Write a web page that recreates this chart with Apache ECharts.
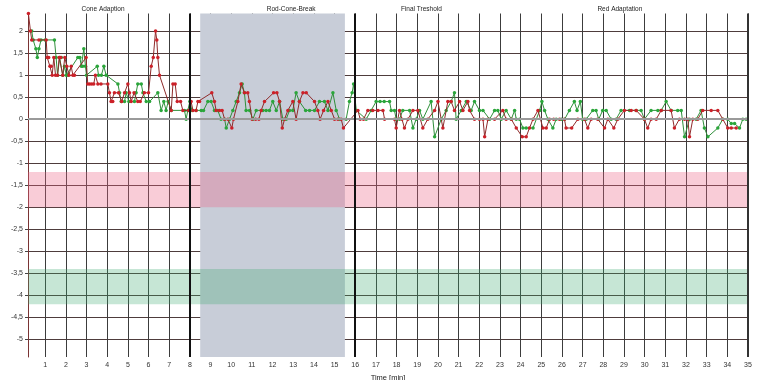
<!DOCTYPE html>
<html>
<head>
<meta charset="utf-8">
<script src="https://cdn.jsdelivr.net/npm/echarts@6/dist/echarts.min.js"></script>
<style>html,body{margin:0;padding:0;background:#fff}#c{width:758px;height:380px}</style>
</head>
<body>
<div id="c"></div>
<script>
// ---- data ----
const xTicks = [1,2,3,4,5,6,7,8,9,10,11,12,13,14,15,16,17,18,19,20,21,22,23,24,25,26,27,28,29,30,31,32,33,34,35];
const yTicks = [2,1.5,1,0.5,0,-0.5,-1,-1.5,-2,-2.5,-3,-3.5,-4,-4.5,-5];
const sectionNames = ['Cone Adaption','Rod-Cone-Break','Final Treshold','Red Adaptation'];
const sectionLabelAt = [3.8,12.9,19.2,28.8];
const sectionBounds = [8,16];
const rodConeBand = [8.5,15.5];
const redBand = [-1.2,-2.0];
const greenBand = [-3.4,-4.2];

const redData = [
[0.19,2.4],[0.29,2.0],[0.35,1.8],[0.7,1.8],[1.05,1.8],[1.1,1.4],[1.17,1.4],[1.23,1.2],[1.29,1.2],[1.34,1.0],[1.42,1.4],[1.5,1.0],[1.6,1.0],[1.68,1.4],[1.75,1.4],[1.85,1.0],[1.95,1.4],[2.05,1.2],[2.15,1.0],[2.26,1.2],[2.34,1.0],[2.42,1.0],[2.98,1.4],[3.06,0.8],[3.15,0.8],[3.25,0.8],[3.35,0.8],[3.43,1.0],[3.55,0.8],[3.7,0.8],[4.03,0.8],[4.11,0.6],[4.19,0.4],[4.27,0.4],[4.35,0.6],[4.55,0.6],[4.7,0.4],[4.84,0.6],[5.0,0.8],[5.08,0.6],[5.16,0.4],[5.3,0.6],[5.48,0.4],[5.6,0.4],[5.8,0.6],[6.0,0.6],[6.13,1.2],[6.23,1.4],[6.34,2.0],[6.4,1.8],[6.45,1.4],[6.53,1.0],[7.1,0.2],[7.18,0.8],[7.29,0.8],[7.39,0.4],[7.55,0.4],[7.66,0.2],[7.95,0.2],[8.06,0.4],[8.15,0.2],[8.3,0.2],[8.39,0.4],
[8.47,0.4],[9.06,0.6],[9.19,0.4],[9.27,0.2],[9.43,0.2],[9.56,0.2],[9.68,0],[9.84,0],[10.03,-0.2],[10.11,0],[10.32,0.4],[10.48,0.8],[10.64,0.6],[10.8,0.6],[10.88,0.4],[11.01,0],[11.18,0],[11.34,0],[11.45,0.2],[11.61,0.4],[12.05,0.6],[12.21,0.6],[12.34,0.4],[12.47,-0.2],[12.58,0],[12.74,0.2],[12.98,0.4],[13.14,0],[13.3,0.4],[13.47,0.6],[13.63,0.6],[14.03,0.4],[14.19,0.2],[14.3,0],[14.47,0.2],[14.68,0.4],[14.84,0.2],[15.0,0],[15.16,0],[15.32,0],[15.43,-0.2],[16.13,0.2],[16.24,0],[16.4,0],[16.61,0.2],[16.85,0.2],[17.1,0.2],
[17.34,0.2],[17.42,0],[17.9,0],[17.98,-0.2],[18.14,0.2],[18.26,0],[18.38,-0.2],[18.55,0],[18.79,0.2],[19.03,0.2],[19.27,-0.2],[19.51,0],[19.84,0.2],[20.0,0.4],[20.24,-0.2],[20.48,0.4],[20.64,0.4],[20.8,0.2],[21.05,0.4],[21.21,0.2],[21.45,0.4],[21.53,0.2],[21.77,0],[22.01,0],[22.18,0],[22.26,-0.4],[22.42,0],[22.74,0],[23.14,0.2],[23.3,0],[23.55,0],[23.79,-0.2],[24.08,-0.4],[24.27,-0.4],[24.43,-0.2],[24.6,0],[24.84,0.2],[25.08,-0.2],[25.24,-0.2],[25.4,0],[25.6,0],[25.88,0],[26.12,0],
[26.2,-0.2],[26.47,-0.2],[26.77,0],[27.09,0],[27.25,-0.2],[27.41,0],[27.73,0],[28.06,-0.2],[28.22,0],[28.51,-0.2],[28.7,0],[29.02,0.2],[29.35,0.2],[29.59,0.2],[29.99,0],[30.15,-0.2],[30.31,0],[30.56,0],[30.8,0.2],[31.28,0.2],[31.44,-0.2],[31.68,0],[31.93,0],[32.09,0],[32.17,-0.4],[32.33,0],[32.57,0],[32.81,0.2],[33.22,0.2],[33.54,0.2],[33.78,0],[34.02,-0.2],[34.19,-0.2],[34.43,-0.2]
];

const greenData = [
[0.35,2.0],[0.42,1.8],[0.55,1.6],[0.62,1.4],[0.7,1.6],[0.8,1.8],[1.0,1.8],[1.45,1.8],[1.53,1.4],[1.6,1.0],[1.7,1.4],[1.78,1.4],[1.85,1.0],[1.94,1.2],[2.02,1.0],[2.1,1.0],[2.58,1.4],[2.68,1.4],[2.75,1.2],[2.82,1.2],[2.87,1.6],[2.95,1.2],[3.0,1.0],[3.52,1.2],[3.58,1.0],[3.72,1.0],[3.84,1.2],[3.95,1.0],[4.52,0.8],[4.6,0.6],[4.68,0.4],[4.84,0.4],[4.92,0.6],[5.05,0.4],[5.32,0.4],[5.4,0.6],[5.48,0.8],[5.65,0.8],[5.73,0.6],[5.89,0.4],[6.05,0.4],[6.45,0.6],[6.61,0.2],[6.74,0.4],[6.85,0.2],[6.95,0.4],[7.1,0.2],[7.74,0.2],[7.82,0],[7.9,0.2],[8.0,0.4],[8.1,0.2],[8.3,0.2],
[8.55,0.2],[8.66,0.2],[8.87,0.4],[9.03,0.4],[9.19,0.2],[9.35,0.2],[9.51,0],[9.68,0],[9.76,-0.2],[9.92,0],[10.08,0.2],[10.24,0.4],[10.4,0.6],[10.53,0.8],[10.64,0.6],[10.72,0.2],[10.89,0.2],[11.05,0],[11.21,0.2],[11.53,0.2],[11.69,0.2],[11.85,0.2],[12.01,0.4],[12.18,0.2],[12.34,0.4],[12.5,0],[12.66,0],[12.82,0.2],[12.98,0.2],[13.14,0.6],[13.3,0.4],[13.6,0.2],[13.79,0.2],[14.03,0.2],[14.27,0.4],[14.51,0.4],[14.68,0.2],[14.92,0.6],[15.08,0.2],[15.24,0],[15.56,0],[15.72,0.4],[15.85,0.6],[15.92,0.8],[16.05,0.2],[16.53,0],[16.77,0.2],[17.01,0.4],
[17.2,0.4],[17.4,0.4],[17.66,0.4],[17.74,0.2],[17.9,0.2],[17.98,0],[18.14,0],[18.3,0.2],[18.63,0.2],[18.79,-0.2],[18.95,0],[19.11,0.2],[19.27,0],[19.67,0.4],[19.84,-0.4],[20.16,0],[20.4,0.2],[20.64,0.4],[20.8,0.6],[20.88,0],[21.13,0.2],[21.37,0.4],[21.61,0.2],[21.77,0.4],[22.01,0.2],[22.18,0.2],[22.5,0],[22.74,0.2],[22.9,0.2],[23.06,0],[23.3,0.2],[23.55,0],[23.71,0.2],[23.79,0],[23.95,0],[24.11,-0.2],[24.27,-0.2],[24.6,-0.2],[24.92,0.2],[25.03,0.4],[25.16,0.2],[25.32,0],[25.56,-0.2],[25.72,0],[25.97,0],[26.13,0],
[26.36,0.2],[26.6,0.4],[26.73,0.2],[26.89,0.4],[27.0,0],[27.17,0],[27.49,0.2],[27.65,0.2],[27.78,0],[27.97,0.2],[28.14,0.2],[28.38,0],[28.62,0],[28.86,0.2],[29.27,0.2],[29.59,0.2],[29.83,0.2],[29.99,0],[30.31,0.2],[30.64,0.2],[30.8,0.2],[31.04,0.4],[31.28,0.2],[31.6,0.2],[31.77,0.2],[31.93,-0.4],[32.17,0],[32.49,0],[32.73,0.2],[32.89,-0.2],[33.06,-0.4],[33.54,-0.2],[33.78,0],[34.02,0],[34.19,-0.1],[34.35,-0.1],[34.59,-0.2],[34.75,0],[34.91,0]
];

// ---- chart ----
const FONT = 'Liberation Sans, Arial, sans-serif';
const chart = echarts.init(document.getElementById('c'), null, {renderer:'canvas'});
const fmt = v => String(v).replace('.', ',');

chart.setOption({
  animation:false,
  backgroundColor:'#fff',
  grid:{left:28,right:10,top:13.5,bottom:23,containLabel:false,outerBoundsMode:'none'},
  xAxis:{
    type:'value', min:0.17, max:35,
    name:'Time [min]', nameLocation:'middle', nameGap:10,
    nameTextStyle:{fontFamily:FONT,fontSize:7.5,color:'#222'},
    axisLine:{show:true,lineStyle:{color:'#7a3434',width:1}},
    axisTick:{show:false,customValues:xTicks},
    axisLabel:{customValues:xTicks,fontFamily:FONT,fontSize:7,color:'#333',margin:5},
    splitLine:{show:true,lineStyle:{color:'#3c3c3c',width:1}}
  },
  yAxis:{
    type:'value', min:-5.4, max:2.4,
    name:'log phot. [cd/m²]', nameLocation:'middle', nameGap:20, nameRotate:90,
    nameTextStyle:{fontFamily:FONT,fontSize:7,color:'#222'},
    axisLine:{show:true,lineStyle:{color:'#7a3434',width:1}},
    axisTick:{show:true,length:3,customValues:yTicks,lineStyle:{color:'#444'}},
    axisLabel:{customValues:yTicks,formatter:fmt,fontFamily:FONT,fontSize:7,color:'#333',margin:5},
    splitLine:{show:true,lineStyle:{color:'#4e3c3c',width:1}}
  },
  series:[
    {
      type:'line', data:[], z:1, silent:true,
      markArea:{silent:true, data:[
        [{xAxis:rodConeBand[0],itemStyle:{color:'#c8cdd8'}},{xAxis:rodConeBand[1]}]
      ]}
    },
    {
      type:'line', data:[], z:2, silent:true,
      markArea:{silent:true, data:[
        [{yAxis:redBand[0],itemStyle:{color:'rgba(236,100,135,0.33)'}},{yAxis:redBand[1]}],
        [{yAxis:greenBand[0],itemStyle:{color:'rgba(60,170,110,0.29)'}},{yAxis:greenBand[1]}]
      ]},
      markLine:{silent:true,symbol:'none',label:{show:false},data:[
        {yAxis:0,lineStyle:{color:'#9a9a9a',width:2,type:'solid'}},
        {xAxis:sectionBounds[0],lineStyle:{color:'#111',width:2,type:'solid'}},
        {xAxis:sectionBounds[1],lineStyle:{color:'#111',width:2,type:'solid'}},
        {xAxis:35,lineStyle:{color:'#333',width:2,type:'solid'}}
      ]},
      markPoint:{silent:true,symbol:'circle',symbolSize:0,
        label:{show:true,position:'inside',offset:[0,-4],fontFamily:FONT,fontSize:6.5,color:'#222',formatter:p=>p.name},
        data:sectionNames.map((n,i)=>({name:n,coord:[sectionLabelAt[i],2.4]}))
      }
    },
    {
      name:'red', type:'line', data:redData, z:4,
      symbol:'circle', symbolSize:3.5, showSymbol:true,
      lineStyle:{color:'#8e2a2a',width:1},
      itemStyle:{color:'#cc2028'}
    },
    {
      name:'green', type:'line', data:greenData, z:3,
      symbol:'circle', symbolSize:3.5, showSymbol:true,
      lineStyle:{color:'#2f8f3a',width:1},
      itemStyle:{color:'#2aa63a'}
    }
  ]
});
</script>
</body>
</html>
